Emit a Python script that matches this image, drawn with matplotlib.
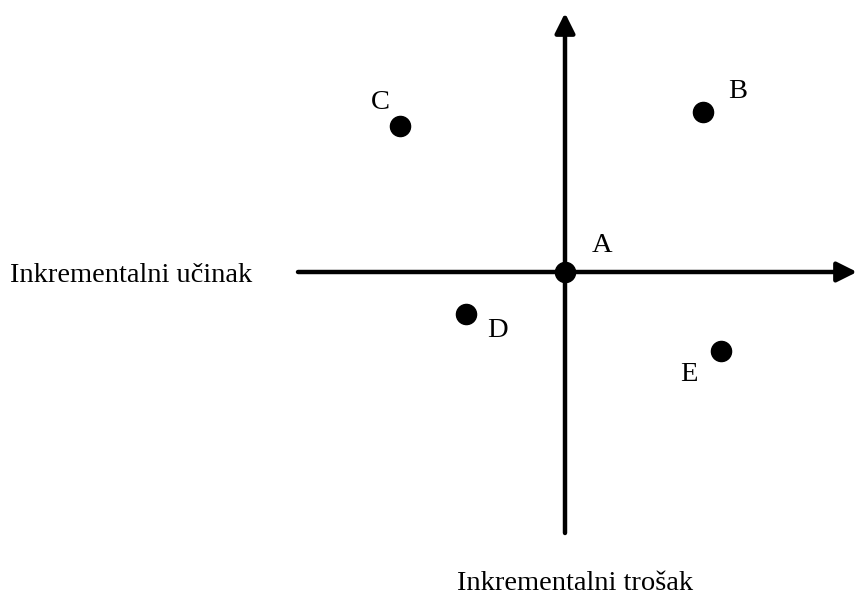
import matplotlib.pyplot as plt

# points relative to origin A (cost, effect)
labels = ["A", "B", "C", "D", "E"]
x_vals = [0.0, 1.38, -1.65, -0.99, 1.56]
y_vals = [0.0, 1.60, 1.46, -0.42, -0.79]
label_offsets = [(27, 19), (25, 15), (-14, 17), (23, -12), (-23, -17)]

x_label = "Inkrementalni učinak"
y_label = "Inkrementalni trošak"

plt.rcParams["font.family"] = ["Liberation Serif", "DejaVu Serif"]

fig = plt.figure(figsize=(8.57, 5.96), dpi=100)
ax = fig.add_axes([0, 0, 1, 1])
ax.set_xlim(-5.65, 2.92)
ax.set_ylim(-3.24, 2.72)
ax.axis("off")

arrow = dict(arrowstyle="-|>,head_length=1.0,head_width=0.5", lw=3.2,
             color="black", mutation_scale=12, shrinkA=0, shrinkB=0)
ax.annotate("", xy=(2.92, 0), xytext=(-2.67, 0), arrowprops=arrow)
ax.annotate("", xy=(0, 2.59), xytext=(0, -2.61), arrowprops=arrow)

ax.plot(x_vals, y_vals, "o", color="black", markersize=14.5, zorder=3)
for lab, x, y, off in zip(labels, x_vals, y_vals, label_offsets):
    ax.annotate(lab, (x, y), xytext=off, textcoords="offset points",
                ha="center", va="center", fontsize=20.5)

ax.text(-5.55, -0.03, x_label, ha="left", va="center", fontsize=20.5)
ax.text(0.1, -3.11, y_label, ha="center", va="center", fontsize=20.5)

fig.savefig("out.png", dpi=100)
